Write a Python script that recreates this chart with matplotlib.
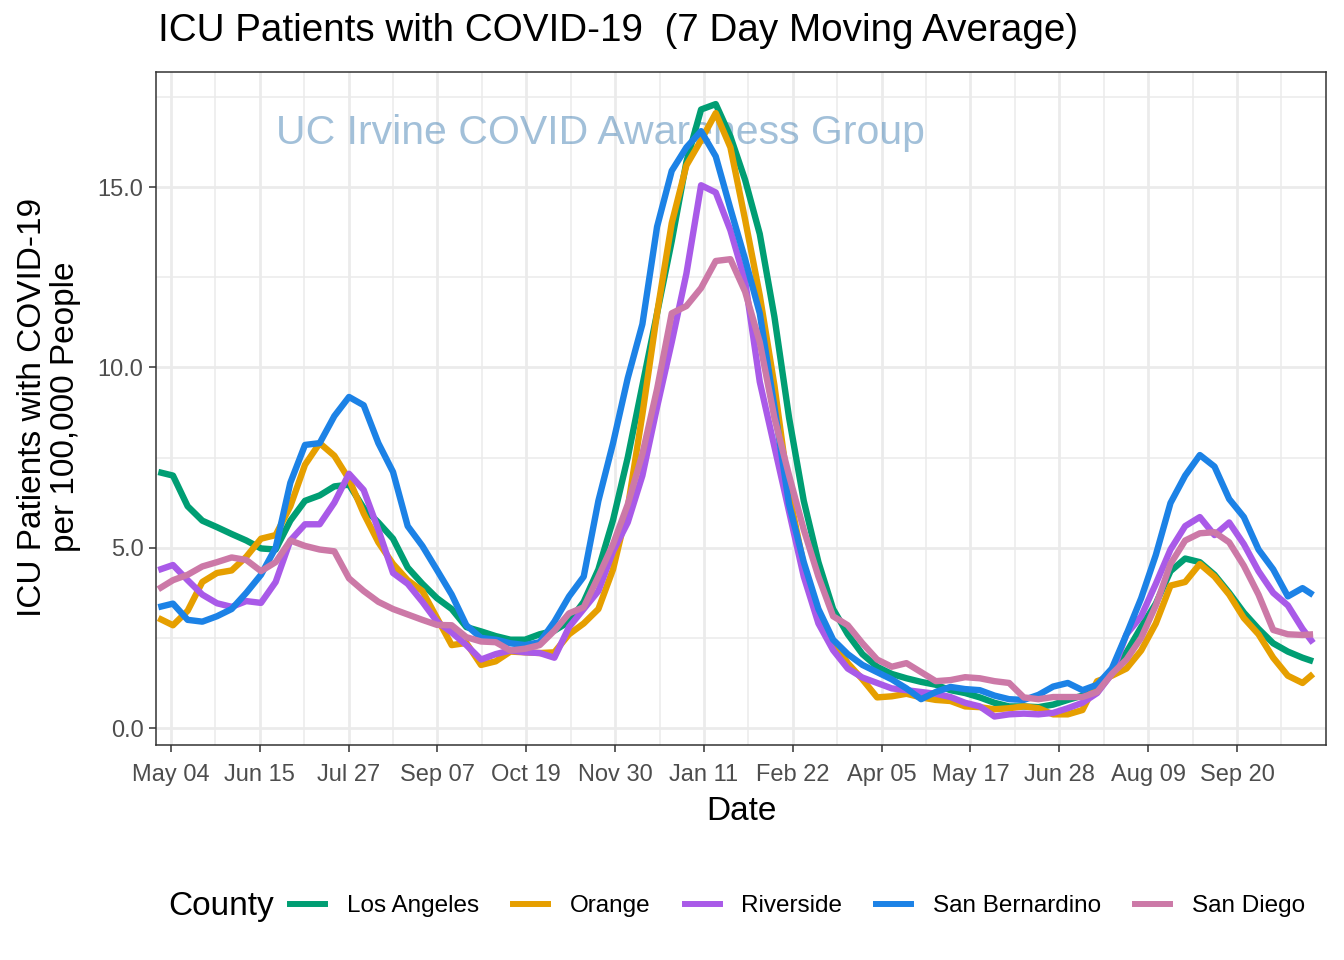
import matplotlib
matplotlib.use('Agg')
import matplotlib.pyplot as plt
import matplotlib.dates as mdates
from matplotlib.lines import Line2D
from matplotlib.ticker import FixedLocator, FuncFormatter
import pandas as pd

plt.rcParams['font.family'] = ['Liberation Sans', 'DejaVu Sans']

# ---------------- data ----------------
dates = list(pd.date_range('2020-04-28', '2021-10-21', periods=79)) + [pd.Timestamp('2021-10-26')]

counties = ['Los Angeles', 'Orange', 'Riverside', 'San Bernardino', 'San Diego']
colors = ['#009E73', '#E69F00', '#A95AE8', '#1C82E6', '#CC79A7']

los_angeles = [7.1, 7.0, 6.15, 5.75, 5.57, 5.38, 5.2, 4.98, 4.95, 5.75,
               6.3, 6.45, 6.7, 6.75, 6.1, 5.7, 5.25, 4.45, 4.0, 3.6,
               3.3, 2.8, 2.68, 2.55, 2.45, 2.45, 2.6, 2.7, 2.95, 3.5,
               4.4, 5.77, 7.5, 9.5, 11.5, 13.5, 15.7, 17.15, 17.3, 16.4,
               15.2, 13.7, 11.4, 8.6, 6.3, 4.6, 3.3, 2.6, 2.05, 1.7,
               1.5, 1.38, 1.28, 1.2, 1.05, 0.97, 0.85, 0.7, 0.6, 0.6,
               0.58, 0.65, 0.78, 0.9, 1.15, 1.55, 2.1, 2.8, 3.45, 4.35,
               4.7, 4.6, 4.25, 3.75, 3.2, 2.75, 2.35, 2.12, 1.95,
               1.85]

orange = [3.05, 2.85, 3.25, 4.05, 4.3, 4.37, 4.75, 5.25, 5.35, 6.15,
          7.3, 7.9, 7.55, 6.9, 5.95, 5.15, 4.55, 4.1, 3.8, 3.05,
          2.3, 2.36, 1.75, 1.85, 2.12, 2.1, 2.08, 2.1, 2.6, 2.9,
          3.3, 4.4, 6.1, 8.7, 11.5, 14.0, 15.6, 16.3, 17.05, 16.1,
          14.1, 12.0, 9.5, 6.5, 4.5, 3.2, 2.4, 1.8, 1.35, 0.85,
          0.88, 0.95, 0.85, 0.78, 0.75, 0.6, 0.58, 0.52, 0.55, 0.6,
          0.55, 0.38, 0.38, 0.5, 1.3, 1.45, 1.65, 2.15, 2.9, 3.95,
          4.05, 4.55, 4.2, 3.7, 3.05, 2.6, 1.95, 1.45, 1.25,
          1.5]

riverside = [4.38, 4.52, 4.1, 3.7, 3.46, 3.36, 3.52, 3.47, 4.05, 5.2,
             5.65, 5.65, 6.25, 7.05, 6.6, 5.5, 4.3, 4.0, 3.5, 2.95,
             2.65, 2.3, 1.9, 2.05, 2.15, 2.1, 2.08, 1.95, 2.8, 3.3,
             3.8, 4.9, 5.7, 7.0, 8.9, 10.7, 12.6, 15.05, 14.85, 13.8,
             12.4, 9.6, 7.8, 6.0, 4.2, 2.9, 2.16, 1.65, 1.4, 1.25,
             1.1, 1.05, 1.0, 0.95, 0.86, 0.7, 0.6, 0.32, 0.38, 0.4,
             0.38, 0.42, 0.55, 0.7, 0.97, 1.5, 2.6, 3.1, 4.0, 4.95,
             5.6, 5.85, 5.35, 5.7, 5.1, 4.35, 3.75, 3.4, 2.75,
             2.36]

san_bernardino = [3.35, 3.45, 3.0, 2.95, 3.1, 3.3, 3.75, 4.25, 5.0, 6.8,
                  7.85, 7.9, 8.65, 9.18, 8.95, 7.9, 7.1, 5.6, 5.05, 4.38,
                  3.7, 2.85, 2.5, 2.45, 2.35, 2.3, 2.38, 2.95, 3.65, 4.2,
                  6.3, 7.9, 9.7, 11.2, 13.9, 15.45, 16.1, 16.55, 15.85, 14.4,
                  13.0, 11.5, 8.9, 6.2, 4.6, 3.3, 2.45, 2.05, 1.75, 1.55,
                  1.35, 1.1, 0.8, 1.0, 1.14, 1.08, 1.05, 0.9, 0.8, 0.78,
                  0.92, 1.15, 1.25, 1.05, 1.2, 1.65, 2.6, 3.6, 4.8, 6.24,
                  7.0, 7.57, 7.25, 6.35, 5.85, 4.95, 4.4, 3.65, 3.88,
                  3.69]

san_diego = [3.85, 4.1, 4.25, 4.48, 4.6, 4.73, 4.66, 4.35, 4.6, 5.2,
             5.05, 4.95, 4.9, 4.15, 3.8, 3.5, 3.3, 3.15, 3.0, 2.86,
             2.85, 2.52, 2.4, 2.38, 2.15, 2.2, 2.3, 2.7, 3.18, 3.35,
             4.2, 5.1, 6.2, 7.6, 9.4, 11.5, 11.7, 12.2, 12.95, 13.0,
             12.1, 10.7, 8.6, 7.0, 5.5, 4.2, 3.1, 2.85, 2.35, 1.9,
             1.7, 1.8, 1.55, 1.3, 1.33, 1.41, 1.38, 1.3, 1.25, 0.85,
             0.8, 0.86, 0.86, 0.86, 1.0, 1.5, 1.9, 2.5, 3.4, 4.55,
             5.2, 5.4, 5.43, 5.15, 4.5, 3.7, 2.72, 2.6, 2.58,
             2.6]

series = [los_angeles, orange, riverside, san_bernardino, san_diego]

major_dates = pd.date_range('2020-05-04', periods=13, freq='42D')
minor_dates = pd.date_range('2020-05-25', periods=13, freq='42D')
y_major = [0, 5, 10, 15]
y_minor = [2.5, 7.5, 12.5, 17.5]

# ---------------- figure ----------------
W, H = 1344, 960
fig = plt.figure(figsize=(W / 100, H / 100), dpi=100)
ax = fig.add_axes([156 / W, 1 - 745 / H, (1326 - 156) / W, (745 - 72) / H])

x0 = mdates.date2num(pd.Timestamp('2020-05-04'))
ax.set_xlim(x0 - 7.09, x0 + 546.1)
ax.set_ylim(-0.47, 18.19)

ax.xaxis.set_major_locator(FixedLocator(mdates.date2num(major_dates)))
ax.xaxis.set_minor_locator(FixedLocator(mdates.date2num(minor_dates)))
ax.xaxis.set_major_formatter(mdates.DateFormatter('%b %d'))
ax.yaxis.set_major_locator(FixedLocator(y_major))
ax.yaxis.set_minor_locator(FixedLocator(y_minor))
ax.yaxis.set_major_formatter(FuncFormatter(lambda v, p: f'{v:.1f}'))

ax.set_axisbelow(True)
ax.grid(which='major', color='#EBEBEB', lw=2.0)
ax.grid(which='minor', color='#EBEBEB', lw=1.1)
ax.tick_params(which='minor', length=0)
ax.tick_params(which='major', length=5, width=1.1, color='#333333',
               labelcolor='#4D4D4D', labelsize=17)
ax.tick_params(axis='y', which='major', pad=4)
ax.tick_params(axis='x', which='major', pad=8.5)
for s in ax.spines.values():
    s.set_color('#333333')
    s.set_linewidth(1.1)

ax.text(x0 + 203, 16.5, 'UC Irvine COVID Awareness Group', color='#4682B4',
        alpha=0.5, fontsize=29.5, ha='center', va='center', zorder=1.5)

handles = []
for name, vals, c in zip(counties, series, colors):
    ax.plot(dates, vals, color=c, lw=4.6, solid_capstyle='butt',
            solid_joinstyle='round', zorder=2)
    handles.append(Line2D([], [], color=c, lw=4.3))

fig.text(158 / W, 1 - 31 / H, 'ICU Patients with COVID-19  (7 Day Moving Average)',
         fontsize=27.8, ha='left', va='center', color='black')
fig.text(741 / W, 1 - 812 / H, 'Date', fontsize=24, ha='center', va='center')
fig.text(49 / W, 1 - 407 / H, 'ICU Patients with COVID-19\nper 100,000 People',
         fontsize=24, ha='center', va='center', rotation=90,
         multialignment='center', linespacing=1.1)

fig.text(168 / W, 53 / H, 'County', fontsize=24, ha='left', va='center')
fig.legend(handles, counties, loc='center left', bbox_to_anchor=(290 / W, 54 / H),
           ncol=5, frameon=False, fontsize=17.5, handlelength=1.44,
           handletextpad=0.9, columnspacing=1.4, borderpad=0, borderaxespad=0)

fig.savefig('out.png', dpi=100, facecolor='white')
